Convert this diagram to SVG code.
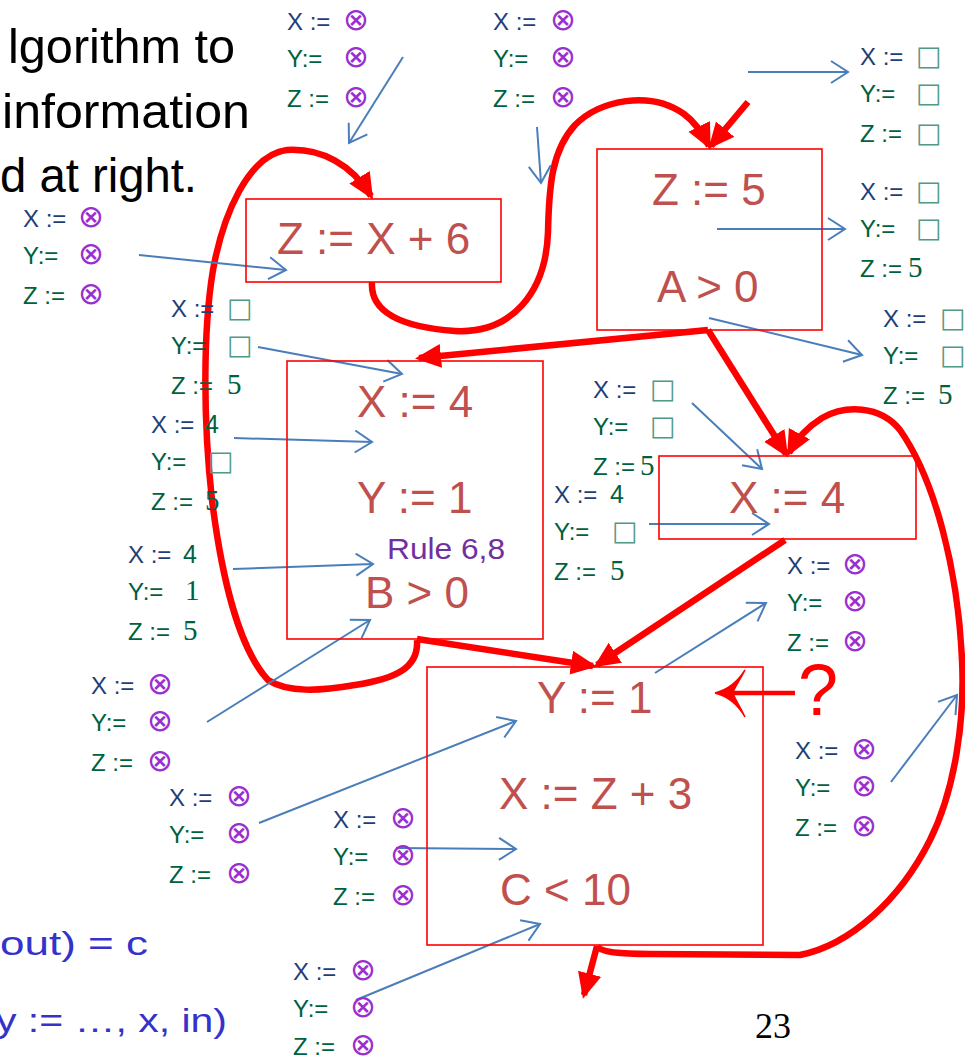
<svg xmlns="http://www.w3.org/2000/svg" width="965" height="1060" viewBox="0 0 965 1060">
<style>
.bx{fill:none;stroke:#ff0000;stroke-width:1.6}
.st{font-family:"Liberation Sans",Arial,sans-serif;font-size:44px;fill:#c0504d}
.rl{fill:none;stroke:#ff0000;stroke-width:6.5;stroke-linejoin:round}
.bl{fill:none;stroke:#4a7ebb;stroke-width:2}
.x{font-family:"Liberation Sans",Arial,sans-serif;font-size:24px;fill:#1f3e78}
.g{font-family:"Liberation Sans",Arial,sans-serif;font-size:24px;fill:#00613f}
.o{font-family:"DejaVu Sans",sans-serif;font-style:italic;font-size:31px;fill:#9a2fd0}
.b{font-family:"DejaVu Sans",sans-serif;font-size:27px;fill:#4f9a86}
.s5{font-family:"Liberation Serif",serif;font-size:29px;fill:#00613f}
.s4{font-family:"Liberation Sans",Arial,sans-serif;font-size:25px;fill:#00613f}
.hd{font-family:"Liberation Sans",Arial,sans-serif;font-size:48px;fill:#000}
.cm{font-family:"Liberation Sans",Arial,sans-serif;font-size:34px;fill:#3333cc}
</style>
<defs>
<marker id="ra" markerUnits="userSpaceOnUse" markerWidth="28" markerHeight="28" refX="22" refY="12" orient="auto"><path d="M0,0 L26,12 L0,24 Z" fill="#ff0000"/></marker>
<marker id="ba" markerUnits="userSpaceOnUse" markerWidth="24" markerHeight="26" refX="18" refY="12" orient="auto"><path d="M1,1 L18,12 L1,23" fill="none" stroke="#4a7ebb" stroke-width="2"/></marker>
</defs>
<rect width="965" height="1060" fill="#fff"/>

<g id="slide-text">
<text class="hd" x="8" y="63" textLength="227" lengthAdjust="spacingAndGlyphs">lgorithm to</text>
<text class="hd" x="2" y="128" textLength="248" lengthAdjust="spacingAndGlyphs">information</text>
<text class="hd" x="0" y="192" textLength="197" lengthAdjust="spacingAndGlyphs">d at right.</text>
<text class="cm" x="0" y="955" textLength="148" lengthAdjust="spacingAndGlyphs">out) = c</text>
<text class="cm" x="-4" y="1032" textLength="231" lengthAdjust="spacingAndGlyphs">y := …, x, in)</text>
<text x="755" y="1038" font-family="Liberation Serif, serif" font-size="36" fill="#000">23</text>
</g>

<g id="connectors">
<g id="red">
<path class="rl" marker-end="url(#ra)" d="M417,640 C419,668 395,679 355,685 C320,691 288,693 268,680 C240,650 222,580 212,500 C203,420 203,330 213,270 C223,215 248,155 287,150 C322,148 352,165 371,196"/>
<path class="rl" marker-end="url(#ra)" d="M372,282 C370,312 400,327 455,331 C512,334 546,292 548,232 C549,185 552,150 575,125 C600,100 650,90 684,114 C695,122 702,132 709,146"/>
<path class="rl" marker-end="url(#ra)" d="M748,102 L711,146"/>
<path class="rl" marker-end="url(#ra)" d="M708,330 L419,358"/>
<path class="rl" d="M708,330 L786,454" marker-end="url(#ra)"/>
<path class="rl" marker-end="url(#ra)" d="M597,946 C600,952 620,954 650,954 L800,955 C850,945 900,900 930,840 C955,790 965,720 962,660 C958,570 935,480 900,430 C880,405 845,405 822,418 C806,428 796,440 789,453"/>
<path class="rl" marker-end="url(#ra)" d="M597,946 L584,995"/>
<path class="rl" marker-end="url(#ra)" d="M417,639 L593,666"/>
<path class="rl" marker-end="url(#ra)" d="M785,540 L597,665"/>
<path d="M795,693 L722,693" fill="none" stroke="#ff0000" stroke-width="4.5"/>
<path d="M745,670 C737,683 727,690 715,693 C727,696 737,703 745,717 C739,704 734,698 733,693 C734,688 739,682 745,670 Z" fill="#ff0000" stroke="#ff0000" stroke-width="1.5"/>
</g>
<g id="blue">
<path class="bl" marker-end="url(#ba)" d="M403,57 L349,143"/>
<path class="bl" marker-end="url(#ba)" d="M537,127 L541,183"/>
<path class="bl" marker-end="url(#ba)" d="M748,72 L848,72"/>
<path class="bl" marker-end="url(#ba)" d="M717,229 L845,229"/>
<path class="bl" marker-end="url(#ba)" d="M709,318 L862,355"/>
<path class="bl" marker-end="url(#ba)" d="M139,255 L286,270"/>
<path class="bl" marker-end="url(#ba)" d="M258,347 L402,374"/>
<path class="bl" marker-end="url(#ba)" d="M234,438 L372,442"/>
<path class="bl" marker-end="url(#ba)" d="M233,569 L373,564"/>
<path class="bl" marker-end="url(#ba)" d="M207,722 L370,620"/>
<path class="bl" marker-end="url(#ba)" d="M259,823 L516,721"/>
<path class="bl" marker-end="url(#ba)" d="M396,848 L516,849"/>
<path class="bl" marker-end="url(#ba)" d="M356,1000 L540,924"/>
<path class="bl" marker-end="url(#ba)" d="M692,403 L762,469"/>
<path class="bl" marker-end="url(#ba)" d="M649,524 L769,524"/>
<path class="bl" marker-end="url(#ba)" d="M655,673 L766,603"/>
<path class="bl" marker-end="url(#ba)" d="M891,782 L957,695"/>
</g>
</g>

<g id="n-zx6"><rect class="bx" x="246" y="199" width="255" height="83"/><text class="st" x="277" y="254">Z := X + 6</text></g>
<g id="n-z5"><rect class="bx" x="597" y="149" width="225" height="181"/><text class="st" x="652" y="205">Z := 5</text><text class="st" x="657" y="302">A &gt; 0</text></g>
<g id="n-x4y1"><rect class="bx" x="287" y="361" width="256" height="278"/><text class="st" x="357" y="417">X := 4</text><text class="st" x="357" y="513">Y := 1</text><text x="387" y="559" font-family="Liberation Sans, Arial, sans-serif" font-size="29" fill="#7030a0" textLength="118" lengthAdjust="spacingAndGlyphs">Rule 6,8</text><text class="st" x="365" y="608">B &gt; 0</text></g>
<g id="n-x4"><rect class="bx" x="659" y="456" width="257" height="83"/><text class="st" x="729" y="513">X := 4</text></g>
<g id="n-y1"><rect class="bx" x="427" y="667" width="336" height="278"/><text class="st" x="537" y="713">Y := 1</text><text class="st" x="499" y="809">X := Z + 3</text><text class="st" x="500" y="905">C &lt; 10</text></g>
<g id="q"><text x="798" y="715" font-family="Liberation Sans, Arial, sans-serif" font-size="72" fill="#ff0000">?</text></g>

<g id="lab-A" transform="translate(287,30)"><text class="x">X :=<tspan class="o" x="56">⊗</tspan></text><text class="g" y="37">Y:=<tspan class="o" x="56">⊗</tspan></text><text class="g" y="77">Z :=<tspan class="o" x="56">⊗</tspan></text></g>
<g id="lab-B" transform="translate(493,30)"><text class="x">X :=<tspan class="o" x="57">⊗</tspan></text><text class="g" y="37">Y:=<tspan class="o" x="57">⊗</tspan></text><text class="g" y="77">Z :=<tspan class="o" x="57">⊗</tspan></text></g>
<g id="lab-C" transform="translate(860,65)"><text class="x">X :=<tspan class="b" x="56">□</tspan></text><text class="g" y="37">Y:=<tspan class="b" x="56">□</tspan></text><text class="g" y="77">Z :=<tspan class="b" x="56">□</tspan></text></g>
<g id="lab-D" transform="translate(860,200)"><text class="x">X :=<tspan class="b" x="56">□</tspan></text><text class="g" y="37">Y:=<tspan class="b" x="56">□</tspan></text><text class="g" y="77">Z :=<tspan class="s5" x="48">5</tspan></text></g>
<g id="lab-E" transform="translate(883,327)"><text class="x">X :=<tspan class="b" x="57">□</tspan></text><text class="g" y="37">Y:=<tspan class="b" x="57">□</tspan></text><text class="g" y="77">Z :=<tspan class="s5" x="55">5</tspan></text></g>
<g id="lab-F" transform="translate(23,227)"><text class="x">X :=<tspan class="o" x="55">⊗</tspan></text><text class="g" y="37">Y:=<tspan class="o" x="55">⊗</tspan></text><text class="g" y="77">Z :=<tspan class="o" x="55">⊗</tspan></text></g>
<g id="lab-G" transform="translate(171,317)"><text class="x">X :=<tspan class="b" x="56">□</tspan></text><text class="g" y="37">Y:=<tspan class="b" x="56">□</tspan></text><text class="g" y="77">Z :=<tspan class="s5" x="56">5</tspan></text></g>
<g id="lab-H" transform="translate(151,433)"><text class="x">X :=<tspan class="s4" x="54">4</tspan></text><text class="g" y="37">Y:=<tspan class="b" x="57">□</tspan></text><text class="g" y="77">Z :=<tspan class="s5" x="54">5</tspan></text></g>
<g id="lab-I" transform="translate(128,563)"><text class="x">X :=<tspan class="s4" x="55">4</tspan></text><text class="g" y="37">Y:=<tspan class="s5" x="57">1</tspan></text><text class="g" y="77">Z :=<tspan class="s5" x="55">5</tspan></text></g>
<g id="lab-J" transform="translate(593,398)"><text class="x">X :=<tspan class="b" x="57">□</tspan></text><text class="g" y="37">Y:=<tspan class="b" x="57">□</tspan></text><text class="g" y="77">Z :=<tspan class="s5" x="47">5</tspan></text></g>
<g id="lab-K" transform="translate(554,503)"><text class="x">X :=<tspan class="s4" x="56">4</tspan></text><text class="g" y="37">Y:=<tspan class="b" x="58">□</tspan></text><text class="g" y="77">Z :=<tspan class="s5" x="56">5</tspan></text></g>
<g id="lab-L" transform="translate(787,574)"><text class="x">X :=<tspan class="o" x="55">⊗</tspan></text><text class="g" y="37">Y:=<tspan class="o" x="55">⊗</tspan></text><text class="g" y="77">Z :=<tspan class="o" x="55">⊗</tspan></text></g>
<g id="lab-M" transform="translate(91,694)"><text class="x">X :=<tspan class="o" x="56">⊗</tspan></text><text class="g" y="37">Y:=<tspan class="o" x="56">⊗</tspan></text><text class="g" y="77">Z :=<tspan class="o" x="56">⊗</tspan></text></g>
<g id="lab-N" transform="translate(169,806)"><text class="x">X :=<tspan class="o" x="57">⊗</tspan></text><text class="g" y="37">Y:=<tspan class="o" x="57">⊗</tspan></text><text class="g" y="77">Z :=<tspan class="o" x="57">⊗</tspan></text></g>
<g id="lab-O" transform="translate(333,828)"><text class="x">X :=<tspan class="o" x="57">⊗</tspan></text><text class="g" y="37">Y:=<tspan class="o" x="57">⊗</tspan></text><text class="g" y="77">Z :=<tspan class="o" x="57">⊗</tspan></text></g>
<g id="lab-P" transform="translate(293,980)"><text class="x">X :=<tspan class="o" x="57">⊗</tspan></text><text class="g" y="37">Y:=<tspan class="o" x="57">⊗</tspan></text><text class="g" y="75">Z :=<tspan class="o" x="57">⊗</tspan></text></g>
<g id="lab-Q" transform="translate(795,759)"><text class="x">X :=<tspan class="o" x="56">⊗</tspan></text><text class="g" y="37">Y:=<tspan class="o" x="56">⊗</tspan></text><text class="g" y="77">Z :=<tspan class="o" x="56">⊗</tspan></text></g>
</svg>
